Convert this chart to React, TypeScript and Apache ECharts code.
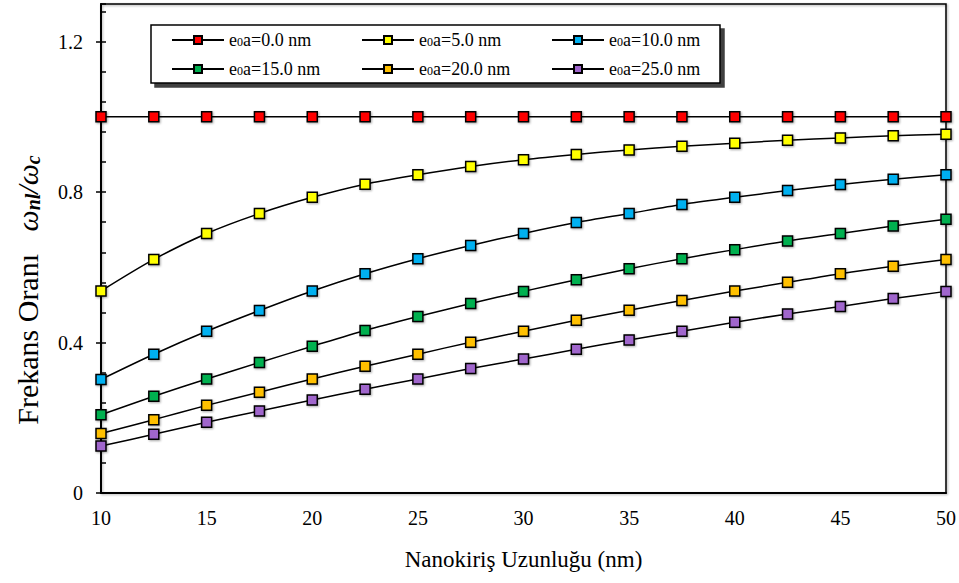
import React, { useEffect, useRef } from "react";
import * as echarts from "echarts";

const xValues = [10, 12.5, 15, 17.5, 20, 22.5, 25, 27.5, 30, 32.5, 35, 37.5, 40, 42.5, 45, 47.5, 50];
const seriesNames = ["e0a=0.0 nm", "e0a=5.0 nm", "e0a=10.0 nm", "e0a=15.0 nm", "e0a=20.0 nm", "e0a=25.0 nm"];
const seriesColors = ["#FF0000", "#FFFF00", "#00B0F0", "#00B050", "#FFC000", "#A066CC"];

const e0 = [1, 1, 1, 1, 1, 1, 1, 1, 1, 1, 1, 1, 1, 1, 1, 1, 1];
const e5 = [0.537, 0.621, 0.69, 0.743, 0.786, 0.821, 0.846, 0.868, 0.886, 0.9, 0.912, 0.922, 0.93, 0.938, 0.944, 0.95, 0.954];
const e10 = [0.302, 0.369, 0.43, 0.485, 0.537, 0.583, 0.623, 0.658, 0.69, 0.719, 0.743, 0.767, 0.786, 0.804, 0.82, 0.834, 0.846];
const e15 = [0.208, 0.257, 0.303, 0.347, 0.39, 0.432, 0.469, 0.504, 0.536, 0.567, 0.596, 0.623, 0.647, 0.67, 0.69, 0.71, 0.728];
const e20 = [0.158, 0.195, 0.233, 0.268, 0.303, 0.337, 0.369, 0.401, 0.43, 0.459, 0.486, 0.512, 0.537, 0.56, 0.583, 0.603, 0.621];
const e25 = [0.125, 0.156, 0.188, 0.218, 0.247, 0.276, 0.303, 0.331, 0.356, 0.382, 0.407, 0.43, 0.454, 0.476, 0.496, 0.517, 0.536];
const allSeries = [e0, e5, e10, e15, e20, e25];

const FONT = "Liberation Serif";

export default function App() {
  const ref = useRef<HTMLDivElement>(null);
  useEffect(() => {
    if (!ref.current) return;
    const chart = echarts.init(ref.current, undefined, { renderer: "svg" });
    const series = allSeries.map((vals, i) => ({
      name: seriesNames[i],
      type: "line",
      xAxisIndex: 0,
      yAxisIndex: 0,
      smooth: 0.3,
      symbol: "rect",
      symbolSize: 10,
      data: vals.map((v, j) => [xValues[j], v]),
      lineStyle: { color: "#000", width: 1.5 },
      itemStyle: {
        color: seriesColors[i],
        borderColor: "#000",
        borderWidth: 1.5,
        shadowColor: "rgba(0,0,0,0.35)",
        shadowBlur: 2,
        shadowOffsetX: 1,
        shadowOffsetY: 1,
      },
      z: 3,
    }));
    const legendRich = {
      t: { fontSize: 18, fontFamily: FONT, color: "#000" },
      s: { fontSize: 12, fontFamily: FONT, color: "#000", padding: [4, 0, 0, 0] },
    };
    const fmt = (name: string) => `{t|e}{s|0}{t|${name.slice(2)}}`;
    const cols = [
      [seriesNames[0], seriesNames[3]],
      [seriesNames[1], seriesNames[4]],
      [seriesNames[2], seriesNames[5]],
    ];
    const legendLefts = [171, 361, 551];
    const legends = cols.map((data, i) => ({
      data,
      orient: "vertical",
      left: legendLefts[i],
      top: 30,
      padding: 0,
      itemGap: 9,
      itemWidth: 52,
      itemHeight: 10,
      selectedMode: false,
      formatter: fmt,
      textStyle: { fontSize: 18, fontFamily: FONT, color: "#000", lineHeight: 20, rich: legendRich },
      z: 10,
    }));
    chart.setOption({
      animation: false,
      backgroundColor: "#fff",
      textStyle: { fontFamily: FONT },
      grid: {
        left: 101,
        right: 13,
        top: 4,
        bottom: 90,
        show: true,
        borderColor: "#000",
        borderWidth: 1.5,
        backgroundColor: "transparent",
        shadowColor: "rgba(0,0,0,0.35)",
        shadowBlur: 2,
        shadowOffsetX: 1,
        shadowOffsetY: 1,
      },
      legend: legends,
      graphic: [
        {
          type: "rect",
          shape: { x: 151, y: 25, width: 569, height: 58 },
          style: {
            fill: "#fff",
            stroke: "#000",
            lineWidth: 1.5,
            shadowColor: "rgba(0,0,0,0.75)",
            shadowBlur: 1,
            shadowOffsetX: 4,
            shadowOffsetY: 4,
          },
          z: 5,
        },
        {
          type: "text",
          x: 27,
          y: 290,
          rotation: Math.PI / 2,
          style: {
            text: "{f|Frekans Oranı}{g|   }{w|ω}{sub|nl}{w|/ω}{sub|c}",
            align: "center",
            verticalAlign: "middle",
            fill: "#000",
            rich: {
              f: { fontSize: 30, fontFamily: FONT, fill: "#000" },
              g: { fontSize: 30, fontFamily: FONT },
              w: { fontSize: 30, fontFamily: FONT, fontStyle: "italic", fill: "#000" },
              sub: {
                fontSize: 20,
                fontFamily: FONT,
                fontStyle: "italic",
                fontWeight: "bold",
                fill: "#000",
                padding: [12, 0, 0, 0],
              },
            },
          },
          z: 5,
        },
      ],
      xAxis: {
        type: "value",
        min: 10,
        max: 50,
        interval: 5,
        name: "Nanokiriş Uzunluğu (nm)",
        nameLocation: "middle",
        nameGap: 55,
        nameTextStyle: { fontSize: 23, fontFamily: FONT, color: "#000" },
        axisLine: { show: true, lineStyle: { color: "#000", width: 2 } },
        axisTick: { show: false },
        axisLabel: { fontSize: 20, fontFamily: FONT, color: "#000", margin: 15 },
        splitLine: { show: false },
      },
      yAxis: [
        {
          type: "value",
          min: 0,
          max: 1.3,
          interval: 0.4,
          position: "left",
          axisLine: { show: true, lineStyle: { color: "#000", width: 2 } },
          axisTick: { show: true, inside: false, length: 5, lineStyle: { color: "#000", width: 1.5 } },
          axisLabel: {
            fontSize: 20,
            fontFamily: FONT,
            color: "#000",
            margin: 18,
            showMaxLabel: false,
            formatter: (v: number) => (v === 0 ? "0" : v.toFixed(1)),
          },
          splitLine: { show: false },
        },
        {
          type: "value",
          min: 0,
          max: 1.3,
          interval: 0.08,
          position: "left",
          axisLine: { show: false },
          axisTick: { show: true, inside: true, length: 5, lineStyle: { color: "#000", width: 1.5 } },
          axisLabel: { show: false },
          splitLine: { show: false },
        },
      ],
      series,
    });
    return () => chart.dispose();
  }, []);
  return (
    <div
      ref={ref}
      style={{ position: "fixed", left: 0, top: 0, width: 959, height: 583, background: "#fff" }}
    />
  );
}
